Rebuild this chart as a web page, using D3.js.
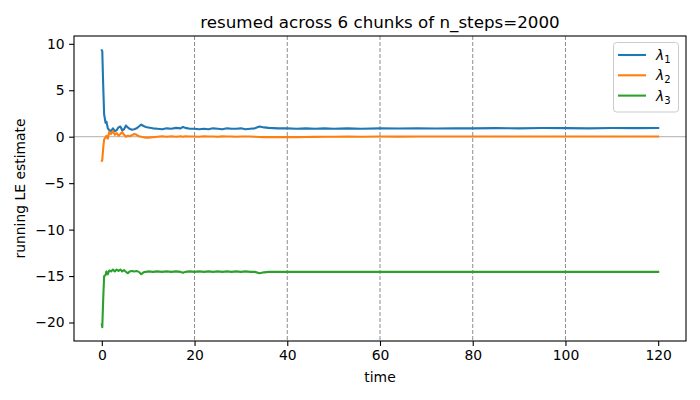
<!DOCTYPE html>
<html>
<head>
<meta charset="utf-8">
<script src="https://cdn.jsdelivr.net/npm/d3@7"></script>
<style>
  body { margin: 0; background: #fff; }
  svg { font-family: "DejaVu Sans", sans-serif; }
</style>
</head>
<body>
<svg id="chart" width="700" height="400"></svg>
<script>
// running LE estimate
const times = [0, 0.1, 0.3, 0.5, 0.8, 1.0, 1.3, 1.6, 2.0, 2.4, 2.8, 3.2, 3.6, 4.0, 4.4, 4.8, 5.2, 5.6, 6.0, 6.5,
  7.0, 7.5, 8.0, 8.5, 9.0, 9.5, 10, 11, 12, 13, 14, 15, 16, 17, 17.5, 18, 19, 20, 21, 22,
  23, 24, 25, 26, 27, 28, 29, 30, 31, 32, 33, 34, 35, 36, 38, 40, 42, 44, 46, 48,
  50, 53, 56, 60, 64, 68, 72, 76, 80, 85, 90, 95, 100, 105, 110, 115, 120];

const lambda1 = [9.3, 9.2, 5.5, 2.4, 1.5, 1.6, 0.9, 0.7, 0.6, 0.9, 0.6, 0.7, 1.0, 1.1, 0.7, 0.8, 1.2, 1.0, 0.85, 0.75,
  0.8, 0.9, 1.1, 1.3, 1.15, 1.05, 1.0, 0.9, 0.85, 0.8, 0.9, 0.85, 0.95, 0.9, 1.05, 0.95, 0.85, 0.85, 0.8, 0.85,
  0.8, 0.9, 0.85, 0.8, 0.9, 0.85, 0.85, 0.9, 0.8, 0.85, 0.9, 1.1, 1.0, 0.95, 0.9, 0.9, 0.85, 0.9, 0.85, 0.9,
  0.85, 0.9, 0.85, 0.9, 0.88, 0.9, 0.88, 0.9, 0.9, 0.92, 0.9, 0.93, 0.92, 0.9, 0.93, 0.92, 0.93];

const lambda2 = [-2.6, -2.5, -1.2, -0.3, -0.1, 0.1, -0.2, 0.5, 0.3, 0.6, 0.2, 0.4, 0.1, 0.3, 0.5, 0.2, 0.0, 0.1, 0.05, 0.15,
  0.3, 0.2, 0.05, 0.0, -0.05, -0.1, -0.1, -0.05, 0.0, 0.05, 0.0, 0.05, 0.0, 0.05, 0.0, 0.05, 0.02, 0.03, 0.0, 0.05,
  0.02, 0.03, 0.0, 0.04, 0.02, 0.03, 0.0, 0.03, 0.02, 0.03, 0.0, -0.03, -0.05, -0.05, -0.05, -0.04, -0.05, -0.03, -0.02, 0.0,
  0.0, 0.01, 0.0, 0.02, 0.01, 0.02, 0.02, 0.03, 0.02, 0.03, 0.02, 0.03, 0.03, 0.02, 0.03, 0.03, 0.03];

const lambda3 = [-20.2, -20.5, -17.5, -15.0, -14.9, -14.5, -14.8, -14.4, -14.5, -14.3, -14.5, -14.3, -14.45, -14.3, -14.5, -14.35, -14.55, -14.7, -14.5, -14.45,
  -14.5, -14.45, -14.55, -14.8, -14.6, -14.55, -14.5, -14.55, -14.5, -14.55, -14.5, -14.55, -14.5, -14.55, -14.65, -14.55, -14.5, -14.55, -14.5, -14.55,
  -14.5, -14.55, -14.5, -14.55, -14.5, -14.55, -14.5, -14.55, -14.5, -14.55, -14.55, -14.7, -14.6, -14.55, -14.55, -14.55, -14.55, -14.55, -14.55, -14.55,
  -14.55, -14.55, -14.55, -14.55, -14.55, -14.55, -14.55, -14.55, -14.55, -14.55, -14.55, -14.55, -14.55, -14.55, -14.55, -14.55, -14.55];

const chunkBounds = [20, 40, 60, 80, 100];
const xTicks = [0, 20, 40, 60, 80, 100, 120];
const yTicks = [-20, -15, -10, -5, 0, 5, 10];
const seriesNames = ["1", "2", "3"];
const colors = ["#1f77b4", "#ff7f0e", "#2ca02c"];

const svg = d3.select("#chart");
const pLeft = 74, pRight = 686, pTop = 36, pBottom = 341;

const x = d3.scaleLinear().domain([-6, 126]).range([pLeft, pRight]);
const y = d3.scaleLinear().domain([-21.99, 10.84]).range([pBottom, pTop]);

svg.append("defs").append("clipPath").attr("id", "clip")
  .append("rect").attr("x", pLeft).attr("y", pTop).attr("width", pRight - pLeft).attr("height", pBottom - pTop);

const plot = svg.append("g").attr("clip-path", "url(#clip)");

// chunk boundaries
plot.selectAll(".vl").data(chunkBounds).enter().append("line")
  .attr("x1", d => x(d)).attr("x2", d => x(d))
  .attr("y1", pTop).attr("y2", pBottom)
  .attr("stroke", "#808080").attr("stroke-width", 0.9)
  .attr("stroke-dasharray", "4,2");

// zero line
plot.append("line")
  .attr("x1", pLeft).attr("x2", pRight)
  .attr("y1", y(0)).attr("y2", y(0))
  .attr("stroke", "#999").attr("stroke-width", 0.8);

const series = [lambda1, lambda2, lambda3];
const line = d3.line().x((d, i) => x(times[i])).y(d => y(d));

series.forEach((s, k) => {
  plot.append("path").datum(s)
    .attr("fill", "none")
    .attr("stroke", colors[k])
    .attr("stroke-width", 2.1)
    .attr("stroke-linejoin", "round")
    .attr("stroke-linecap", "square")
    .attr("d", line);
});

// axes
const xAxis = svg.append("g").attr("transform", `translate(0,${pBottom})`)
  .call(d3.axisBottom(x).tickValues(xTicks).tickSize(4.9).tickPadding(4.5).tickFormat(d3.format("d")));
const yAxis = svg.append("g").attr("transform", `translate(${pLeft},0)`)
  .call(d3.axisLeft(y).tickValues(yTicks).tickSize(4.9).tickPadding(4.5)
    .tickFormat(d => d < 0 ? "\u2212" + Math.abs(d) : d));

[xAxis, yAxis].forEach(a => {
  a.select(".domain").remove();
  a.selectAll("line").attr("stroke", "#000").attr("stroke-width", 1.1);
  a.selectAll("text").attr("fill", "#000").style("font-size", "13.9px").style("font-family", "DejaVu Sans");
});

// frame
svg.append("rect").attr("x", pLeft).attr("y", pTop)
  .attr("width", pRight - pLeft).attr("height", pBottom - pTop)
  .attr("fill", "none").attr("stroke", "#000").attr("stroke-width", 1.1);

// title and labels
svg.append("text").attr("x", (pLeft + pRight) / 2).attr("y", 28)
  .attr("text-anchor", "middle").style("font-size", "16.7px")
  .text("resumed across 6 chunks of n_steps=2000");

svg.append("text").attr("x", (pLeft + pRight) / 2).attr("y", 382)
  .attr("text-anchor", "middle").style("font-size", "13.9px")
  .text("time");

svg.append("text")
  .attr("transform", `translate(25,${(pTop + pBottom) / 2}) rotate(-90)`)
  .attr("text-anchor", "middle").style("font-size", "13.9px")
  .text("running LE estimate");

// legend
const lg = svg.append("g");
lg.append("rect").attr("x", 613.5).attr("y", 42.5).attr("width", 65).attr("height", 69.5)
  .attr("rx", 3).attr("fill", "#fff").attr("fill-opacity", 0.8)
  .attr("stroke", "#ccc").attr("stroke-width", 1);

seriesNames.forEach((n, k) => {
  const yy = 55 + k * 20.3;
  lg.append("line").attr("x1", 618).attr("x2", 646).attr("y1", yy).attr("y2", yy)
    .attr("stroke", colors[k]).attr("stroke-width", 2.1);
  const t = lg.append("text").attr("x", 656).attr("y", yy + 5).style("font-size", "13.9px");
  t.append("tspan").style("font-style", "italic").text("\u03bb");
  t.append("tspan").attr("dy", 3).style("font-size", "10px").text(n);
});
</script>
</body>
</html>
